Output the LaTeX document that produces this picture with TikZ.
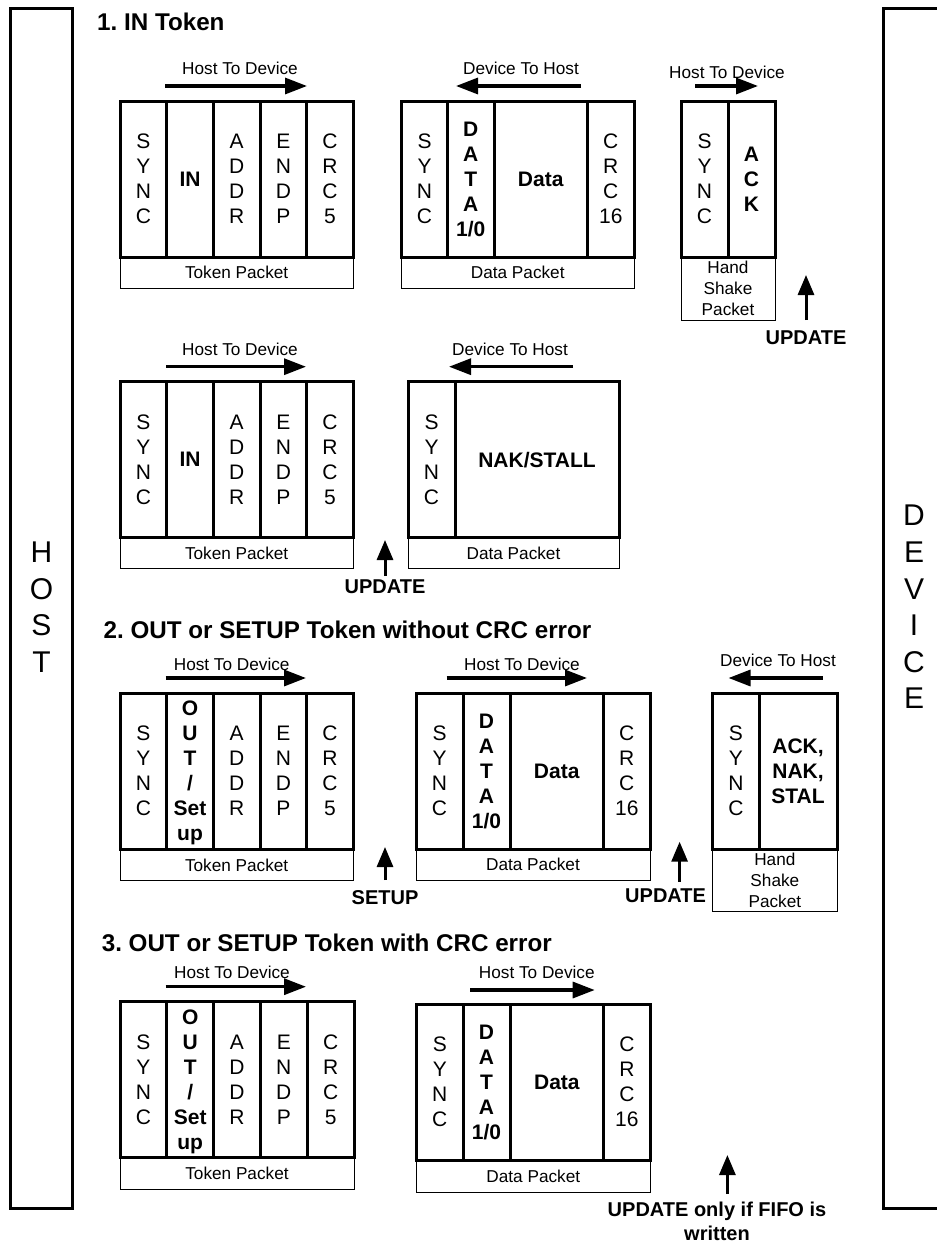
\documentclass[tikz,border=0pt]{standalone}
\usepackage{fontspec}
\setmainfont{Liberation Sans}
\usetikzlibrary{arrows.meta}
\frenchspacing
\newcommand\fldfont{\fontsize{21}{25}\selectfont}
\newcommand\lblfont{\fontsize{17.2}{21}\selectfont}
\newcommand\ttlfont{\fontsize{24.2}{28}\selectfont\bfseries}
\newcommand\updfont{\fontsize{20}{24}\selectfont\bfseries}
\newcommand\sidefont{\fontsize{30}{36.6}\selectfont}
\begin{document}
\begin{tikzpicture}[x=1pt,y=-1pt,
  fld/.style={draw, line width=3pt, inner sep=0pt, outer sep=0pt, minimum height=156pt, anchor=north west, align=center, font=\fldfont},
  bfld/.style={fld, font=\fldfont\bfseries},
  lbl/.style={draw, line width=1pt, inner sep=0pt, outer sep=0pt, anchor=north west, align=center, font=\lblfont},
  dirlbl/.style={inner sep=0pt, font=\lblfont},
  dirarrow/.style={line width=3.2pt, -{Triangle[length=22pt,width=16pt]}},
  uparrow/.style={line width=3pt, -{Triangle[length=20pt,width=16pt]}},
  upd/.style={inner sep=0pt, font=\updfont, align=center},
  ttl/.style={inner sep=0pt, anchor=west, font=\ttlfont},
  side/.style={draw, line width=3pt},
  sidetxt/.style={inner sep=0pt, align=center, font=\sidefont}]
\useasboundingbox (0,0) rectangle (937,1245);

% HOST and DEVICE
\draw[side] (10.5,8) rectangle (72.5,1208.5);
\node[sidetxt] (host) at (41.5,607) {H\\O\\S\\T};
\draw[side] (945,8) -- (883,8) -- (883,1208.5) -- (945,1208.5);
\node[sidetxt] (device) at (914,607) {D\\E\\V\\I\\C\\E};

% ===== Section 1 =====
\node[ttl] (t1) at (97,22) {1. IN Token};

\node[dirlbl] (d1a) at (240,68) {Host To Device};
\coordinate (a1as) at (165,86); \coordinate (a1ae) at (307,86);
\draw[dirarrow] (a1as) -- (a1ae);
\node[lbl, minimum width=233.3pt, minimum height=31.5pt] (p1al) at (120,257) {Token Packet};
\node[fld, minimum width=46.67pt] (p1a1) at (120,101) {S\\Y\\N\\C};
\node[bfld, minimum width=46.67pt] (p1a2) at (166.67,101) {IN};
\node[fld, minimum width=46.67pt] (p1a3) at (213.33,101) {A\\D\\D\\R};
\node[fld, minimum width=46.67pt] (p1a4) at (260,101) {E\\N\\D\\P};
\node[fld, minimum width=46.67pt] (p1a5) at (306.67,101) {C\\R\\C\\5};

\node[dirlbl] (d1b) at (521,68) {Device To Host};
\coordinate (a1bs) at (581,86); \coordinate (a1be) at (456,86);
\draw[dirarrow] (a1bs) -- (a1be);
\node[lbl, minimum width=232.5pt, minimum height=31.5pt] (p1bl) at (401.5,257) {Data Packet};
\node[fld, minimum width=46pt] (p1b1) at (401.5,101) {S\\Y\\N\\C};
\node[bfld, minimum width=46.5pt] (p1b2) at (447.5,101) {D\\A\\T\\A\\1/0};
\node[bfld, minimum width=93.5pt] (p1b3) at (494,101) {Data};
\node[fld, minimum width=46.5pt] (p1b4) at (587.5,101) {C\\R\\C\\16};

\node[dirlbl] (d1c) at (727,72) {Host To Device};
\coordinate (a1cs) at (695,86); \coordinate (a1ce) at (758,86);
\draw[dirarrow] (a1cs) -- (a1ce);
\node[lbl, minimum width=94pt, minimum height=63pt] (p1cl) at (681,257) {Hand\\Shake\\Packet};
\node[fld, minimum width=47pt] (p1c1) at (681,101) {S\\Y\\N\\C};
\node[bfld, minimum width=47pt] (p1c2) at (728,101) {A\\C\\K};

\node[upd] (u1a) at (806,338) {UPDATE};
\coordinate (u1as) at (806,320); \coordinate (u1ae) at (806,275);
\draw[uparrow] (u1as) -- (u1ae);

% ===== Section 1b =====
\node[dirlbl] (d2a) at (240,349) {Host To Device};
\coordinate (a2as) at (166,366.7); \coordinate (a2ae) at (306,366.7);
\draw[dirarrow] (a2as) -- (a2ae);
\node[lbl, minimum width=233.3pt, minimum height=31pt] (p2al) at (120,537.7) {Token Packet};
\node[fld, minimum width=46.67pt] (p2a1) at (120,381.7) {S\\Y\\N\\C};
\node[bfld, minimum width=46.67pt] (p2a2) at (166.67,381.7) {IN};
\node[fld, minimum width=46.67pt] (p2a3) at (213.33,381.7) {A\\D\\D\\R};
\node[fld, minimum width=46.67pt] (p2a4) at (260,381.7) {E\\N\\D\\P};
\node[fld, minimum width=46.67pt] (p2a5) at (306.67,381.7) {C\\R\\C\\5};

\node[dirlbl] (d2b) at (510,349) {Device To Host};
\coordinate (a2bs) at (573,366.7); \coordinate (a2be) at (449,366.7);
\draw[dirarrow] (a2bs) -- (a2be);
\node[lbl, minimum width=211pt, minimum height=31pt] (p2bl) at (408,537.7) {Data Packet};
\node[fld, minimum width=47pt] (p2b1) at (408,381.7) {S\\Y\\N\\C};
\node[bfld, minimum width=164pt] (p2b2) at (455,381.7) {NAK/STALL};

\node[upd] (u2a) at (385,587) {UPDATE};
\coordinate (u2as) at (385,576); \coordinate (u2ae) at (385,540);
\draw[uparrow] (u2as) -- (u2ae);

% ===== Section 2 =====
\node[ttl] (t2) at (103.5,630) {2. OUT or SETUP Token without CRC error};

\node[dirlbl] (d3a) at (231.7,664) {Host To Device};
\coordinate (a3as) at (165.7,678); \coordinate (a3ae) at (306,678);
\draw[dirarrow] (a3as) -- (a3ae);
\node[lbl, minimum width=233.3pt, minimum height=31.7pt] (p3al) at (120,849) {Token Packet};
\node[fld, minimum width=46.67pt] (p3a1) at (120,693) {S\\Y\\N\\C};
\node[bfld, minimum width=46.67pt] (p3a2) at (166.67,693) {O\\U\\T\\/\\Set\\\smash{up}};
\node[fld, minimum width=46.67pt] (p3a3) at (213.33,693) {A\\D\\D\\R};
\node[fld, minimum width=46.67pt] (p3a4) at (260,693) {E\\N\\D\\P};
\node[fld, minimum width=46.67pt] (p3a5) at (306.67,693) {C\\R\\C\\5};

\node[upd] (u3a) at (385,898) {SETUP};
\coordinate (u3as) at (385,880); \coordinate (u3ae) at (385,847);
\draw[uparrow] (u3as) -- (u3ae);

\node[dirlbl] (d3b) at (522,664) {Host To Device};
\coordinate (a3bs) at (446.5,678); \coordinate (a3be) at (587,678);
\draw[dirarrow] (a3bs) -- (a3be);
\node[lbl, minimum width=234pt, minimum height=31pt] (p3bl) at (416,849) {Data Packet};
\node[fld, minimum width=47pt] (p3b1) at (416,693) {S\\Y\\N\\C};
\node[bfld, minimum width=47pt] (p3b2) at (463,693) {D\\A\\T\\A\\1/0};
\node[bfld, minimum width=93.5pt] (p3b3) at (510,693) {Data};
\node[fld, minimum width=46.5pt] (p3b4) at (603.5,693) {C\\R\\C\\16};

\node[dirlbl] (d3c) at (778,660) {Device To Host};
\coordinate (a3cs) at (822.6,678); \coordinate (a3ce) at (728.5,678);
\draw[dirarrow] (a3cs) -- (a3ce);
\node[lbl, minimum width=124.3pt, minimum height=62.7pt] (p3cl) at (712.7,849) {Hand\\Shake\\Packet};
\node[fld, minimum width=46.3pt] (p3c1) at (712.7,693) {S\\Y\\N\\C};
\node[bfld, minimum width=78pt] (p3c2) at (759,693) {ACK,\\NAK,\\STAL};

\node[upd] (u3b) at (665.6,896) {UPDATE};
\coordinate (u3bs) at (679.6,881.7); \coordinate (u3be) at (679.6,841.7);
\draw[uparrow] (u3bs) -- (u3be);

% ===== Section 3 =====
\node[ttl] (t3) at (101.6,942.7) {3. OUT or SETUP Token with CRC error};

\node[dirlbl] (d4a) at (232,972) {Host To Device};
\coordinate (a4as) at (165.6,986.7); \coordinate (a4ae) at (306,986.7);
\draw[dirarrow] (a4as) -- (a4ae);
\node[lbl, minimum width=234pt, minimum height=31.3pt] (p4al) at (120,1157.7) {Token Packet};
\node[fld, minimum width=46.8pt] (p4a1) at (120,1001.7) {S\\Y\\N\\C};
\node[bfld, minimum width=46.8pt] (p4a2) at (166.8,1001.7) {O\\U\\T\\/\\Set\\\smash{up}};
\node[fld, minimum width=46.8pt] (p4a3) at (213.6,1001.7) {A\\D\\D\\R};
\node[fld, minimum width=46.8pt] (p4a4) at (260.4,1001.7) {E\\N\\D\\P};
\node[fld, minimum width=46.8pt] (p4a5) at (307.2,1001.7) {C\\R\\C\\5};

\node[dirlbl] (d4b) at (536.8,972) {Host To Device};
\coordinate (a4bs) at (470,990); \coordinate (a4be) at (594.7,990);
\draw[dirarrow] (a4bs) -- (a4be);
\node[lbl, minimum width=233.4pt, minimum height=32.5pt] (p4bl) at (416.6,1160) {Data Packet};
\node[fld, minimum width=46.4pt] (p4b1) at (416.6,1004) {S\\Y\\N\\C};
\node[bfld, minimum width=47pt] (p4b2) at (463,1004) {D\\A\\T\\A\\1/0};
\node[bfld, minimum width=93.7pt] (p4b3) at (510,1004) {Data};
\node[fld, minimum width=46.3pt] (p4b4) at (603.7,1004) {C\\R\\C\\16};

\node[upd] (u4a) at (717,1221) {UPDATE only if FIFO is\\written};
\coordinate (u4as) at (727.4,1194); \coordinate (u4ae) at (727.4,1155);
\draw[uparrow] (u4as) -- (u4ae);
\end{tikzpicture}
\end{document}
